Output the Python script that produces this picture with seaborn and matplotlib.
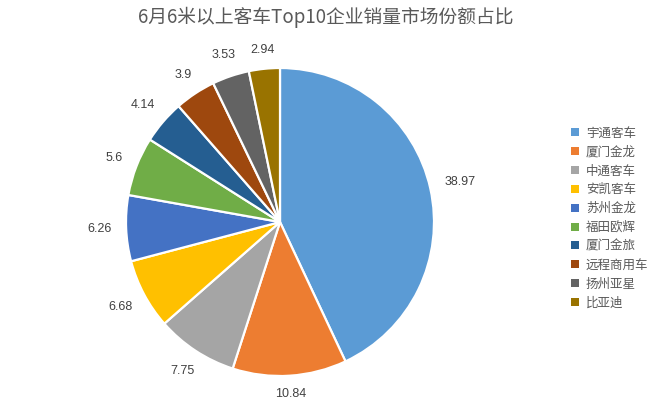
import numpy as np
import matplotlib
matplotlib.use("Agg")
import matplotlib.pyplot as plt
import seaborn as sns

categories = ["宇通客车", "厦门金龙", "中通客车", "安凯客车", "苏州金龙",
              "福田欧辉", "厦门金旅", "远程商用车", "扬州亚星", "比亚迪"]
shares = [38.97, 10.84, 7.75, 6.68, 6.26, 5.6, 4.14, 3.9, 3.53, 2.94]
value_labels = ["38.97", "10.84", "7.75", "6.68", "6.26", "5.6", "4.14", "3.9", "3.53", "2.94"]
colors = ["#5B9BD5", "#ED7D31", "#A5A5A5", "#FFC000", "#4472C4",
          "#70AD47", "#255E91", "#9E480E", "#636363", "#997300"]
title = "6月6米以上客车Top10企业销量市场份额占比"

sns.set_theme(style="white")
plt.rcParams['font.family'] = ['Noto Sans CJK SC', 'DejaVu Sans']

W, H = 652, 409
fig = plt.figure(figsize=(W / 100, H / 100), dpi=100)
ax = fig.add_axes([0, 0, 1, 1])

cx, cy, r = 280, 222, 154
palette = sns.color_palette(colors)
wedges, _ = ax.pie(shares, colors=palette, startangle=90, counterclock=False,
                   wedgeprops=dict(edgecolor="white", linewidth=1.6))
ax.set_xlim(-cx / r, (W - cx) / r)
ax.set_ylim(-(H - cy) / r, cy / r)
ax.set_aspect('auto')
ax.axis('off')

total = sum(shares)
cum = 0.0
for v, lab in zip(shares, value_labels):
    mid = (cum + v / 2) / total
    cum += v
    th = 2 * np.pi * mid
    s, c = np.sin(th), np.cos(th)
    hw = len(lab) * 3.6 / r
    hh = 6 / r
    d = 1.075 + hw * abs(s) + hh * abs(c)
    ax.text(d * s, d * c, lab, ha='center', va='center', fontsize=9,
            color='#404040', family=['Liberation Sans', 'DejaVu Sans'])

fig.text(0.499, 1 - 17 / H, title, ha='center', va='center', fontsize=13.5,
         color='#595959')

leg = fig.legend(wedges, categories, loc='center left',
                 bbox_to_anchor=(566 / W, 1 - 218 / H), frameon=False,
                 fontsize=9, handlelength=0.6, handleheight=0.6,
                 handletextpad=0.6, labelspacing=0.47, borderaxespad=0)
for t in leg.get_texts():
    t.set_color('#595959')
for h in leg.legend_handles:
    h.set_linewidth(0)

fig.savefig("out.png", dpi=100)
